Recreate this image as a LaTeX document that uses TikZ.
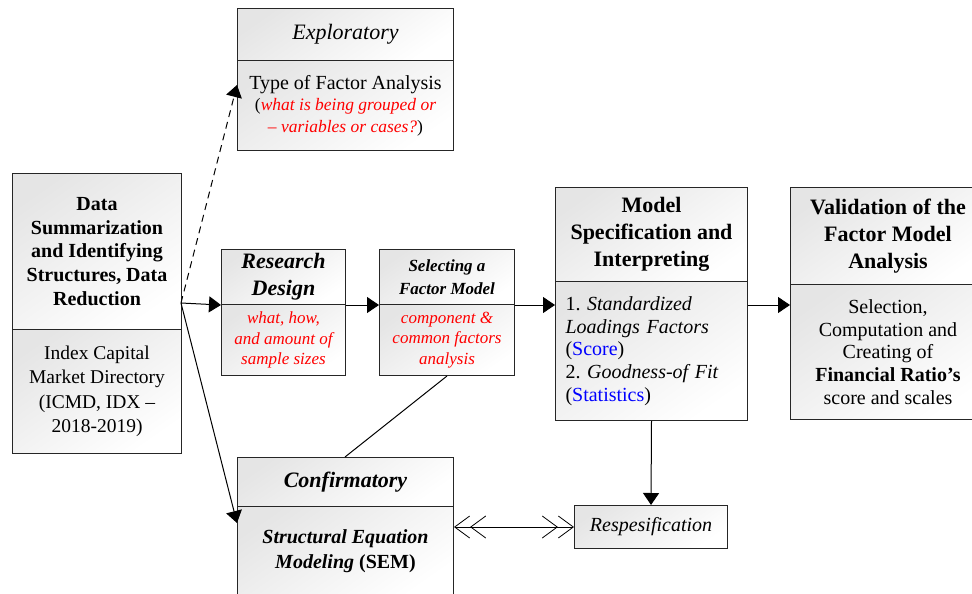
\documentclass[tikz,border=0pt]{standalone}
\usepackage{fontspec}
\setmainfont{Liberation Serif}
\usetikzlibrary{arrows.meta,calc}
\newcommand\fs[2]{\fontsize{#1}{#2}\selectfont}
\frenchspacing
\begin{document}
\begin{tikzpicture}[x=1pt,y=-1pt,
  box/.style={draw=black!85, line width=1pt, top color=black!10, bottom color=white, shading angle=35,
              inner sep=0pt, align=center, anchor=north west},
  arr/.style={line width=1pt, -{Triangle[length=12pt,width=16pt]}},
  dbl/.style={line width=0.8pt, {Straight Barb[length=15pt,width=22pt] Straight Barb[length=15pt,width=22pt]}-{Straight Barb[length=15pt,width=22pt] Straight Barb[length=15pt,width=22pt]}}]
\clip (0,0) rectangle (972,594);
\fill[white] (0,0) rectangle (972,594);

% Data box
\node[box, minimum width=169pt, minimum height=156pt, font=\fs{20}{23.8}\bfseries] (DataTop) at (12,173)
  {Data\\Summarization\\and Identifying\\Structures, Data\\Reduction};
\node[box, minimum width=169pt, minimum height=124pt, font=\fs{19.5}{24.5}] (DataBot) at (12,329)
  {Index Capital\\Market Directory\\(ICMD, IDX --\\2018-2019)};

% Exploratory
\node[box, minimum width=216pt, minimum height=52pt, font=\fs{22}{26}\itshape] (ExpTop) at (237,8)
  {Exploratory};
\node[box, minimum width=216pt, minimum height=90pt, font=\fs{17.5}{21.5}] (ExpBot) at (237,60)
  {{\fs{20}{22}Type of Factor Analysis}\\
   (\textcolor{red}{\itshape what is being grouped or}\\
   \textcolor{red}{\itshape -- variables or cases?})};

% Research design
\node[box, minimum width=124pt, minimum height=55pt, font=\fs{22}{27}\bfseries\itshape] (ResTop) at (221,249)
  {Research\\Design};
\node[box, minimum width=124pt, minimum height=71pt, font=\fs{17}{20.5}\itshape, text=red] (ResBot) at (221,304)
  {what, how,\\and amount of\\sample sizes};

% Selecting a factor model
\node[box, minimum width=135pt, minimum height=55pt, font=\fs{17}{23}\bfseries\itshape] (SelTop) at (379,249)
  {Selecting a\\Factor Model};
\node[box, minimum width=135pt, minimum height=71pt, font=\fs{17}{20.5}\itshape, text=red] (SelBot) at (379,304)
  {component \&\\common factors\\analysis};

% Model specification
\node[box, minimum width=192pt, minimum height=94pt, font=\fs{22}{27}\bfseries] (ModTop) at (555,187)
  {Model\\Specification and\\Interpreting};
\node[box, minimum width=192pt, minimum height=139pt, align=left, text width=172pt, font=\fs{20}{22.7}] (ModBot) at (555,281)
  {1. \textit{Standardized}\\\textit{Loadings Factors}\\(\textcolor{blue}{Score})\\2. \textit{Goodness-of Fit}\\(\textcolor{blue}{Statistics})};

% Validation
\node[box, minimum width=195pt, minimum height=97pt, font=\fs{22}{27}\bfseries] (ValTop) at (790,187)
  {Validation of the\\Factor Model\\Analysis};
\node[box, minimum width=195pt, minimum height=135pt, font=\fs{20}{22.7}] (ValBot) at (790,284)
  {Selection,\\Computation and\\Creating of\\\textbf{Financial Ratio’s}\\score and scales};

% Confirmatory
\node[box, minimum width=216pt, minimum height=49pt, font=\fs{22}{26}\bfseries\itshape] (ConfTop) at (237,457)
  {Confirmatory};
\node[box, minimum width=216pt, minimum height=90pt, font=\fs{20}{25}\bfseries] (ConfBot) at (237,506)
  {\textit{Structural Equation}\\\textit{Modeling} (SEM)};

% Respesification
\node[box, minimum width=153pt, minimum height=43pt, font=\fs{20}{24}\itshape] (Resp) at (574,505)
  {Respesification};

% connectors
\coordinate (hub) at (181,303);
\draw[arr] (hub) -- (ResTop.south west);
\draw[arr] (ResTop.south east) -- (SelTop.south west);
\draw[arr] (SelTop.south east) -- (SelTop.south east -| ModBot.west);
\draw[arr] (ModBot.east |- SelTop.south east) -- (ValBot.west |- SelTop.south east);
\draw[arr, dash pattern=on 7pt off 5pt] (hub) -- ($(ExpBot.north west)+(0,25)$);
\draw[arr] (hub) -- ($(ConfBot.north west)+(0,17)$);
\draw[line width=1pt] ($(SelBot.south west)+(68,0)$) -- ($(ConfTop.north west)+(108,0)$);
\draw[arr] (ModBot.south) -- (Resp.north);
\draw[dbl] (ConfBot.east |- Resp.west) -- (Resp.west);
\end{tikzpicture}
\end{document}
